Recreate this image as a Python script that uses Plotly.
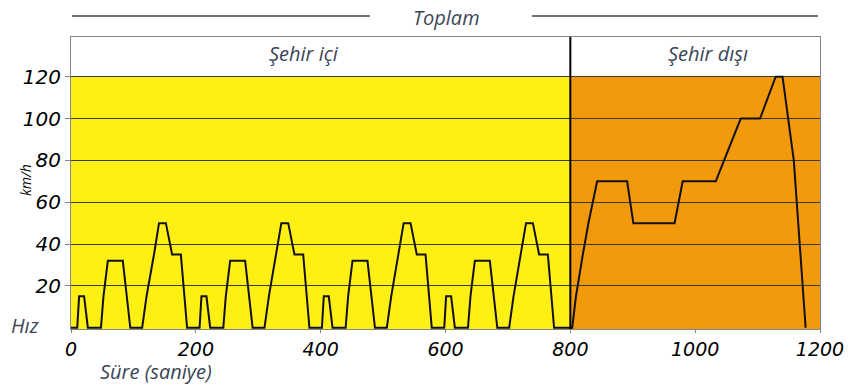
import plotly.graph_objects as go

# --- data ---
time_s = [0, 10, 13, 21, 27, 48, 52, 59, 83, 95, 114, 121, 133, 141, 152, 162, 176, 186,
          206, 209, 217, 223, 244, 248, 255, 279, 291, 310, 317, 329, 337, 348, 358, 372, 382,
          402, 405, 413, 419, 440, 444, 451, 475, 487, 506, 513, 525, 533, 544, 554, 568, 578,
          598, 601, 609, 615, 636, 640, 647, 671, 683, 702, 709, 721, 729, 740, 750, 764, 774,
          803, 809, 820, 829, 843, 891, 901, 967, 980, 1033, 1073, 1104, 1129, 1140,
          1158, 1163, 1168, 1173, 1177]
speed_kmh = [0, 0, 15, 15, 0, 0, 15, 32, 32, 0, 0, 15, 35, 50, 50, 35, 35, 0,
             0, 15, 15, 0, 0, 15, 32, 32, 0, 0, 15, 35, 50, 50, 35, 35, 0,
             0, 15, 15, 0, 0, 15, 32, 32, 0, 0, 15, 35, 50, 50, 35, 35, 0,
             0, 15, 15, 0, 0, 15, 32, 32, 0, 0, 15, 35, 50, 50, 35, 35, 0,
             0, 15, 35, 50, 70, 70, 50, 50, 70, 70, 100, 100, 120, 120,
             80, 60, 40, 20, 0]

x_ticks = [0, 200, 400, 600, 800, 1000, 1200]
y_ticks = [20, 40, 60, 80, 100, 120]
phase_bounds = [0, 800, 1200]          # urban / extra-urban split
phase_labels = ["Şehir içi", "Şehir dışı"]
phase_colors = ["#FFF014", "#F39A0C"]
top_speed_band = 120

TEXT = "#3b4557"
LABEL_FONT = "Open Sans"
NUM_FONT = "DejaVu Sans"

fig = go.Figure()
fig.add_trace(go.Scatter(x=time_s, y=speed_kmh, mode="lines",
                         line=dict(color="#10101a", width=2), hoverinfo="skip",
                         showlegend=False))

# coloured phase backgrounds up to 120 km/h
for i in range(len(phase_labels)):
    fig.add_shape(type="rect", xref="x", yref="y",
                  x0=phase_bounds[i], x1=phase_bounds[i + 1], y0=-2, y1=top_speed_band,
                  fillcolor=phase_colors[i], line=dict(width=0), layer="below")

# divider between phases
fig.add_shape(type="line", xref="x", yref="paper", x0=phase_bounds[1], x1=phase_bounds[1],
              y0=0, y1=1, line=dict(color="black", width=2), layer="above")

# "Toplam" bracket lines
fig.add_shape(type="line", xref="paper", yref="paper", x0=0.0013, x1=0.399, y0=1.072, y1=1.072,
              line=dict(color="#3d4250", width=1.5))
fig.add_shape(type="line", xref="paper", yref="paper", x0=0.6155, x1=0.9973, y0=1.072, y1=1.072,
              line=dict(color="#3d4250", width=1.5))

ann_font = dict(family=LABEL_FONT, size=20, color=TEXT, style="italic")
common = dict(xref="paper", yref="paper", showarrow=False, xanchor="center", yanchor="middle")
fig.add_annotation(text="Toplam", x=0.502, y=1.068, font=ann_font, **common)
fig.add_annotation(text=phase_labels[0], x=0.311, y=0.942, font=ann_font, **common)
fig.add_annotation(text=phase_labels[1], x=0.850, y=0.942, font=ann_font, **common)
fig.add_annotation(text="Hız", x=-0.0614, y=0.012, font=ann_font, **common)
fig.add_annotation(text="Süre (saniye)", x=0.1135, y=-0.146, font=ann_font, **common)
fig.add_annotation(text="km/h", x=-0.0614, y=0.51, textangle=-90,
                   font=dict(family=LABEL_FONT, size=14, color="black", style="italic"), **common)

fig.update_xaxes(range=[0, 1200], tickvals=x_ticks, ticktext=[str(v) for v in x_ticks],
                 showgrid=False, zeroline=False, showline=True, linecolor="#7d8590", linewidth=1,
                 mirror=True, ticks="outside", ticklen=3, tickcolor="#7d8590",
                 tickfont=dict(family=NUM_FONT, size=19, color="black", style="italic"))
fig.update_yaxes(range=[-0.6, 139], tickvals=y_ticks, ticktext=[str(v) for v in y_ticks],
                 showgrid=True, gridcolor="#3a3a32", gridwidth=1, zeroline=False,
                 showline=True, linecolor="#7d8590", linewidth=1, mirror=True,
                 ticks="outside", ticklen=5, tickcolor="#7d8590",
                 tickfont=dict(family=NUM_FONT, size=20, color="black", style="italic"))

# page body adds an ~8px offset; compensate in size/margins
fig.update_layout(width=849, height=377, margin=dict(l=63, r=37, t=29, b=56),
                  plot_bgcolor="white", paper_bgcolor="white", showlegend=False)

fig.write_html("out.html")
